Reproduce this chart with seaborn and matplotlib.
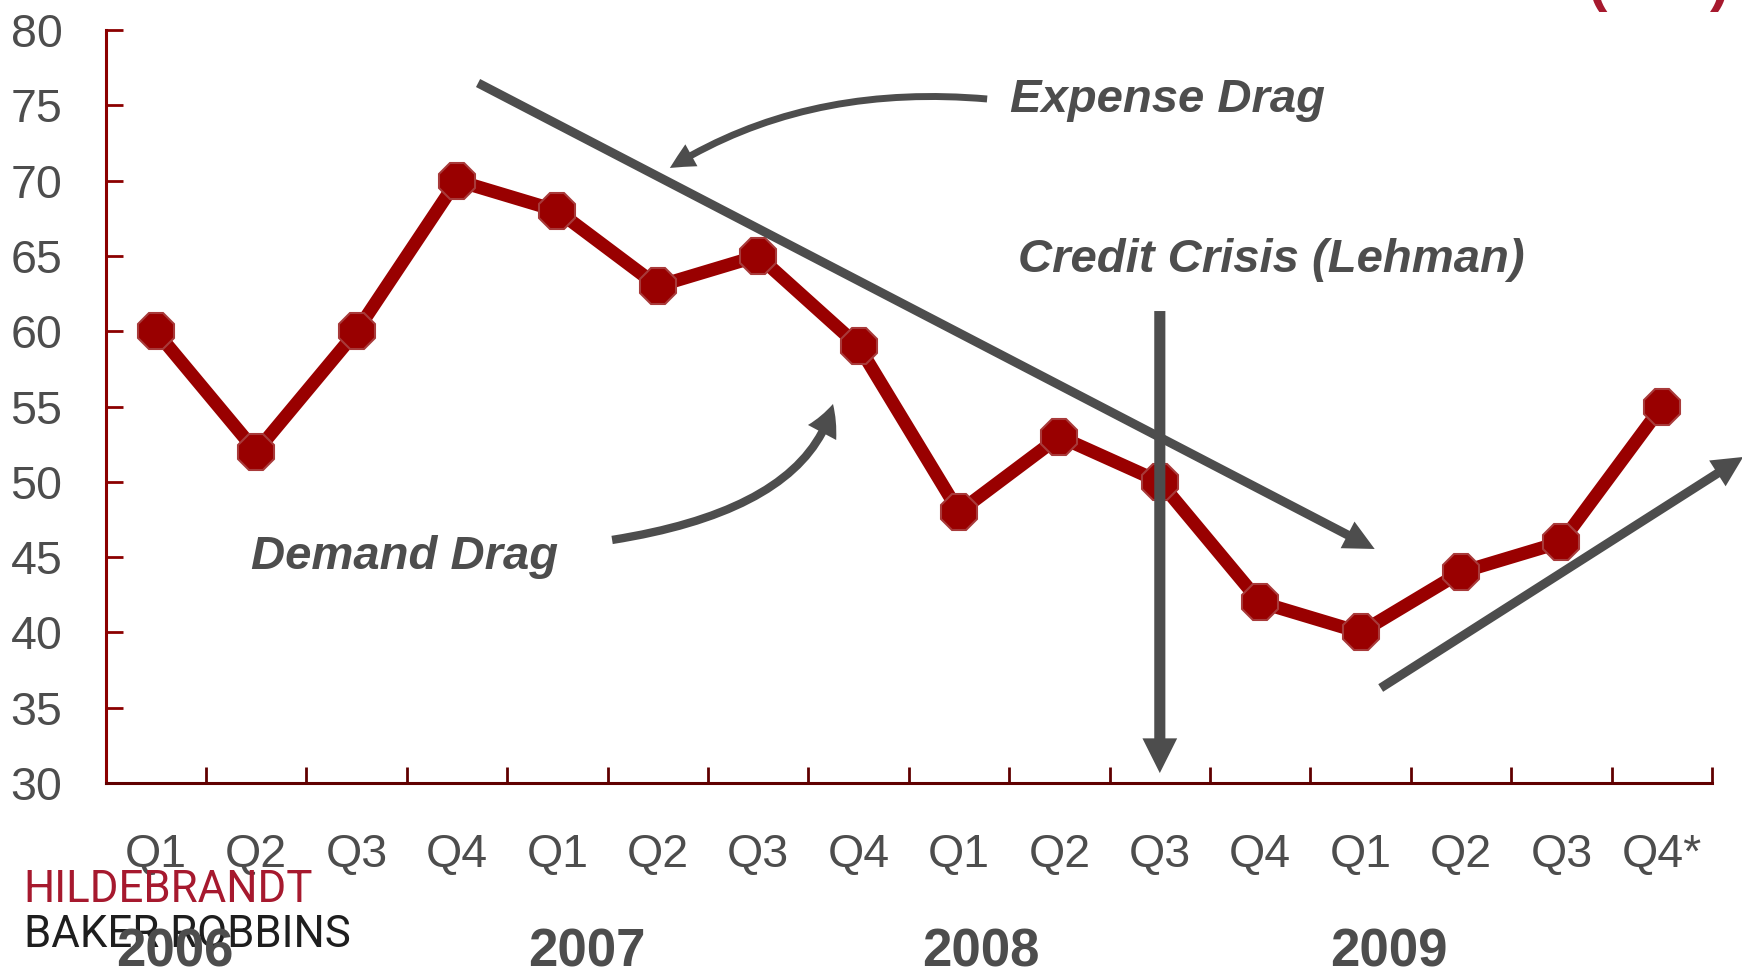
import numpy as np
import pandas as pd
import matplotlib
matplotlib.use("Agg")
import matplotlib.pyplot as plt
import seaborn as sns
from matplotlib.patches import FancyArrowPatch, ArrowStyle
from matplotlib import transforms

# ---- data -------------------------------------------------------------
quarters = ["Q1", "Q2", "Q3", "Q4", "Q1", "Q2", "Q3", "Q4",
            "Q1", "Q2", "Q3", "Q4", "Q1", "Q2", "Q3", "Q4*"]
years = ["2006", "2007", "2008", "2009"]
year_label_x = [0.19, 4.29, 8.22, 12.28]
index_values = [60, 52, 60, 70, 68, 63, 65, 59, 48, 53, 50, 42, 40, 44, 46, 55]
y_ticks = list(range(30, 85, 5))

# ---- style ------------------------------------------------------------
sns.set_style("white")
plt.rcParams["font.family"] = ["Liberation Sans", "DejaVu Sans"]

LINE_RED = "#990000"
AXIS_RED = "#8b0000"
AXIS_DARK = "#600000"
GREY = "#4d4d4d"
BRAND_RED = "#a6192e"

fig = plt.figure(figsize=(17.42, 9.68), dpi=100)
ax = fig.add_axes([0.0606, 0.1911, 0.9222, 0.7779])

df = pd.DataFrame({"pos": np.arange(len(index_values)), "value": index_values})
sns.lineplot(data=df, x="pos", y="value", ax=ax, color=LINE_RED,
             linewidth=9.5, marker="8", markersize=28,
             markerfacecolor=LINE_RED, markeredgecolor="#a83a3a",
             markeredgewidth=1.5, zorder=3)

ax.set_xlim(-0.5, len(quarters) - 0.5)
ax.set_ylim(30, 80)
ax.set_xlabel("")
ax.set_ylabel("")

# y axis
ax.set_yticks(y_ticks)
ax.set_yticklabels([str(v) for v in y_ticks])
ax.tick_params(axis="y", direction="in", length=12.5, width=2, color=AXIS_RED,
               pad=31, labelsize=33.5, labelcolor=GREY, left=True)

# x axis: quarter labels centred, tick marks between categories
ax.set_xticks(np.arange(len(quarters)))
ax.set_xticklabels(quarters)
ax.tick_params(axis="x", which="major", length=0, pad=36,
               labelsize=33.5, labelcolor=GREY)
ax.set_xticks(np.arange(0.5, len(quarters), 1), minor=True)
ax.tick_params(axis="x", which="minor", direction="in", length=11.5,
               width=2, color=AXIS_DARK, bottom=True)

for side in ["top", "right"]:
    ax.spines[side].set_visible(False)
ax.spines["left"].set_color(AXIS_RED)
ax.spines["left"].set_linewidth(2.2)
ax.spines["bottom"].set_color(AXIS_DARK)
ax.spines["bottom"].set_linewidth(2.2)
ax.grid(False)


# ---- annotation arrows -------------------------------------------------
def add_arrow(tail, tip, tail_w, head_l, head_w, conn="arc3,rad=0"):
    style = ArrowStyle.Simple(head_length=head_l, head_width=head_w,
                              tail_width=tail_w)
    arr = FancyArrowPatch(tail, tip, arrowstyle=style, connectionstyle=conn,
                          mutation_scale=1, shrinkA=0, shrinkB=0,
                          linewidth=0, facecolor=GREY, edgecolor=GREY,
                          transform=ax.transData, clip_on=False, zorder=4)
    ax.add_patch(arr)


# expense trend line
add_arrow((3.21, 76.48), (12.14, 45.54), 6.5, 22, 21.6)
# curved pointer from "Expense Drag"
add_arrow((8.28, 75.42), (5.12, 70.84), 5.0, 18, 18,
          conn="angle3,angleA=-5,angleB=32")
# curved pointer from "Demand Drag"
add_arrow((4.545, 46.14), (6.745, 55.17), 6.0, 22, 23,
          conn="angle3,angleA=9,angleB=76")
# Lehman marker
add_arrow((10.0, 61.34), (10.0, 30.66), 8, 25, 25)
# recovery arrow
add_arrow((12.20, 36.31), (15.81, 51.65), 6.5, 22, 22)

text_kw = dict(fontsize=34, fontweight="bold", fontstyle="italic",
               color=GREY, ha="left", va="baseline", zorder=5)
ax.text(8.51, 74.56, "Expense Drag", **text_kw)
ax.text(8.59, 63.93, "Credit Crisis (Lehman)", **text_kw)
ax.text(0.95, 44.21, "Demand Drag", **text_kw)

# ---- year labels under the quarter labels ------------------------------
year_tr = transforms.blended_transform_factory(ax.transData, fig.transFigure)
for xpos, yr in zip(year_label_x, years):
    fig.text(xpos, 0.002, yr, transform=year_tr, ha="center", va="baseline",
             fontsize=38, fontweight="bold", color=GREY,
             family=["Liberation Sans Narrow", "Liberation Sans"], zorder=6)

# ---- brand mark ---------------------------------------------------------
fig.text(0.0135, 0.0682, "HILDEBRANDT", ha="left", va="baseline",
         fontsize=31.5, color=BRAND_RED, family=["Roboto", "Liberation Sans"],
         zorder=4)
fig.text(0.0135, 0.0217, "BAKER ROBBINS", ha="left", va="baseline",
         fontsize=31.5, color="#1e1e1e", family=["Roboto", "Liberation Sans"],
         zorder=4)

# heading running off the top edge
fig.text(0.911, 1.0, "(PMI)", ha="left", va="baseline", fontsize=42,
         fontweight="bold", color=BRAND_RED, zorder=4)

fig.savefig("out.png", dpi=100)
